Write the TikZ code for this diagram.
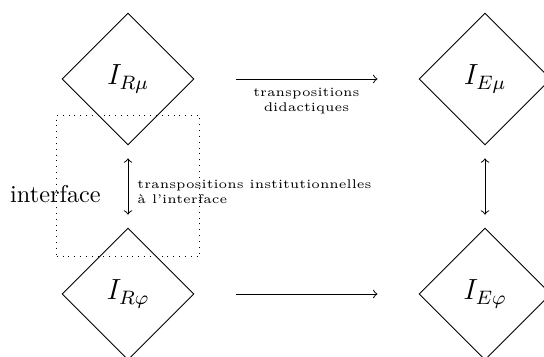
\documentclass[tikz,border=0pt]{standalone}
\usepackage{fontspec}
\usetikzlibrary{shapes.geometric}
\begin{document}
\begin{tikzpicture}[x=0.4115pt,y=-0.4115pt,
  dia/.style={draw, diamond, inner sep=0pt, minimum size=54.3pt, line width=0.4pt, font=\large},
  harrow/.style={->, shorten <=16.9pt, shorten >=16.9pt},
  varrow/.style={<->, shorten <=5.3pt, shorten >=5.3pt},
  lbl/.style={font=\fontsize{5.2}{5.9}\selectfont, inner sep=0pt}]
\useasboundingbox (0,0) rectangle (544,356);
\node[dia] (A) at (128,79) {$I_{R\mu}$};
\node[dia] (B) at (485,79) {$I_{E\mu}$};
\node[dia] (C) at (128,294) {$I_{R\varphi}$};
\node[dia] (D) at (485,294) {$I_{E\varphi}$};
\node[draw, dotted, minimum width=58.7pt, minimum height=58.3pt, inner sep=0pt] (box) at (128,185.85) {};
\node[anchor=base, inner sep=0pt] (itf) at (55.5,202.7) {interface};
\draw[harrow] (A) -- node[lbl, anchor=base, align=center, yshift=-13.2pt] (td) {transpositions\\didactiques} (B);
\draw[harrow] (C) -- (D);
\draw[varrow] (A) -- (C);
\draw[varrow] (B) -- (D);
\node[lbl, anchor=base west, align=left] (ti) at (137,203) {transpositions institutionnelles\\à l'interface};
\end{tikzpicture}
\end{document}
